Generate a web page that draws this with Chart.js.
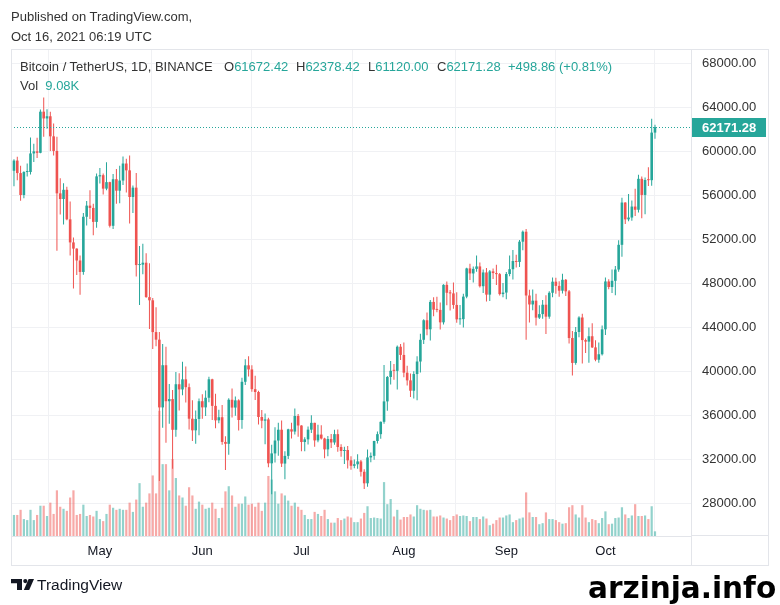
<!DOCTYPE html>
<html>
<head>
<meta charset="utf-8">
<script src="https://cdn.jsdelivr.net/npm/chart.js@4.4.1/dist/chart.umd.min.js"></script>
<style>
  html, body { margin: 0; padding: 0; background: #fff; }
  #wrap { position: relative; width: 780px; height: 605px; overflow: hidden; font-family: "Liberation Sans", Arial, sans-serif; color: #333; }
  #wrap canvas { position: absolute; left: 0; top: 0; }
  .t { position: absolute; white-space: nowrap; font-size: 13px; line-height: 15px; }
  .g { color: #26a69a; }
  .frame { position: absolute; left: 11px; top: 49px; width: 758px; height: 517px; box-sizing: border-box; border: 1px solid #e3e5ea; }
  .ln { position: absolute; background: #e3e5ea; }
</style>
</head>
<body>
<div id="wrap">
  <canvas id="chart" width="780" height="605"></canvas>
  <div class="frame"></div>
  <div class="ln" style="left:691px;top:535px;width:78px;height:1px"></div>
  <div class="ln" style="left:691px;top:536px;width:1px;height:30px"></div>

  <div class="t" style="left:11px;top:9px">Published on TradingView.com,</div>
  <div class="t" style="left:11px;top:29px">Oct 16, 2021 06:19 UTC</div>

  <div class="t" style="left:20px;top:59px">Bitcoin / TetherUS, 1D, BINANCE</div>
  <div class="t" style="left:224px;top:59px">O<span class="g" id="vO"></span></div>
  <div class="t" style="left:296px;top:59px">H<span class="g" id="vH"></span></div>
  <div class="t" style="left:368px;top:59px">L<span class="g" id="vL"></span></div>
  <div class="t" style="left:437px;top:59px">C<span class="g" id="vC"></span></div>
  <div class="t g" style="left:508px;top:59px" id="vChg"></div>
  <div class="t" style="left:20px;top:78px">Vol&nbsp;&nbsp;<span class="g" id="vVol"></span></div>

  <svg style="position:absolute;left:11px;top:579px" width="23" height="11" viewBox="0 0 23 11">
    <path d="M0 0H11V11H6V4.2H0Z" fill="#131722"/>
    <circle cx="14.3" cy="2.1" r="2.1" fill="#131722"/>
    <path d="M17.6 0H23L18.2 11H12.8Z" fill="#131722"/>
  </svg>
  <div class="t" style="left:37px;top:576px;font-size:15.5px;line-height:18px;color:#131722">TradingView</div>
  <div class="t" style="left:588px;top:571px;font-family:'DejaVu Sans',sans-serif;font-weight:bold;font-size:29.5px;line-height:34px;color:#000">arzinja.info</div>
</div>

<script>
// BINANCE:BTCUSDT, 1D, 2021-04-04 .. 2021-10-16
const startDate = "2021-04-04";

const open = [
  57051,58202,59129,57992,56000,58088,58092,59778,59964,59835,63576,62960,63159,61334,60006,56150,55633,56473,53787,51690,51125,50047,49004,54021,55034,54824,53555,
  57694,57800,56578,57169,53200,57436,56393,57314,58862,58241,55816,56670,49631,49671,49845,46716,46427,43538,42850,36690,40526,37252,37449,34655,38796,38324,39241,38530,35663,34606,35641,
  37253,36693,37568,39246,36829,35513,35796,33552,33380,37388,36675,37331,35546,39020,40516,40144,38349,38092,35820,35483,35600,31608,32509,33678,34663,31584,32283,34700,34494,35911,
  35045,33543,33786,34669,35287,33690,34220,33862,32875,33815,33502,34259,33086,32729,32820,31880,31383,31520,31778,30839,29790,32144,32287,33634,34258,35381,37237,39457,40019,40016,42207,
  41461,39846,39147,38207,39723,40862,42836,44614,43792,46281,45579,45555,44423,47834,47112,47056,46005,44696,44715,46761,49327,48869,49284,49507,47707,48960,46942,49058,48902,48807,46991,
  47131,48819,49254,49997,49915,51756,52663,46864,46049,46396,44851,45171,46025,44940,47112,48121,47737,47300,48292,47242,42996,40734,43543,44865,42810,42670,43160,42147,41026,41522,
  43790,48141,47634,48200,49224,51471,55315,53785,53951,54949,54659,57471,56006,57367,57347,61672.42
];
const high = [
  58500,59253,59475,58650,58153,58869,61218,60650,61199,63777,64854,63800,63564,62506,61288,57526,57076,56757,55410,52131,51166,50500,54356,55460,56428,55200,57963,
  58458,57964,58981,57200,57911,58360,58650,59500,59300,59594,56862,58000,51367,51570,50700,49800,46643,45797,43546,42451,42200,38829,38270,39920,39791,40841,40411,38856,37338,36400,37499,
  37894,38225,39477,39289,37925,36480,36900,34068,37534,38400,37681,37437,39380,41064,41330,40527,39560,38199,36457,36137,35750,33298,34881,35298,35500,32707,34749,35297,36600,36100,
  35057,33977,34945,35967,35293,35118,35059,33929,34100,34262,34666,34679,33340,33114,33185,32249,31955,32435,31899,31063,32858,32591,33650,34500,35398,40550,39542,40900,40640,42316,42448,
  42599,40480,39780,39969,41350,43392,44700,45310,46454,46700,46743,46218,47886,48144,47372,48053,47160,46000,47033,49382,49757,49500,50500,49875,49226,49368,49171,49309,49664,48918,48000,
  49000,50500,51000,50558,51900,52780,52920,47381,47400,47032,45987,46460,46876,47250,48500,48486,48160,48843,48372,47358,43639,44000,44978,45200,42966,43950,44350,42787,42590,44141,
  48495,48336,49228,49536,51886,55750,55332,56100,55489,56561,57839,57680,57600,58532,62933,62378.42
];
const low = [
  56478,56800,57333,55473,55700,57691,57875,59000,59369,59800,61301,62020,60000,59580,50931,54221,53329,53695,50500,47500,48726,46930,48753,53222,53813,52330,53013,
  57052,56035,56435,53046,52900,55200,55241,56900,56235,53400,54370,48600,46000,48800,46650,43825,42001,42250,30000,34850,33488,35200,31111,34031,36419,37800,37134,34685,33632,33379,34153,
  35666,35920,37170,35555,34800,35258,33300,31000,32396,35784,35937,34600,34757,38730,39506,38116,37365,35129,34803,33336,31251,28805,31683,32286,31275,30151,32000,33862,34225,34017,
  32712,32699,33316,34357,33125,33532,33777,32077,32261,33004,33306,32658,32202,31550,31133,31020,31164,31108,30407,29278,29482,31708,31924,33401,33851,35205,36383,38772,39200,38313,41000,
  39422,38690,37642,37508,37332,39853,42447,43261,42779,44982,45341,43770,44217,45971,45500,45660,44376,44203,43950,46622,48273,48050,49029,47600,47100,46315,46364,48371,47820,46864,46700,
  46514,48613,48316,49402,49450,50969,42843,44412,45513,44132,44722,44742,43370,44750,46700,47020,46750,47045,46829,42500,39600,40565,43069,40675,41646,40750,42098,40888,40753,41410,
  43283,47430,47088,46891,49022,50382,53357,53617,53661,54080,54415,53879,54240,56818,56850,61120.00
];
const close = [
  58202,59129,57992,56000,58088,58092,59778,59964,59835,63576,62960,63159,61334,60006,56150,55633,56473,53787,51690,51125,50047,49004,54021,55034,54824,53555,57694,
  57800,56578,57169,53200,57436,56393,57314,58862,58241,55816,56670,49631,49671,49845,46716,46427,43538,42850,36690,40526,37252,37449,34655,38796,38324,39241,38530,35663,34606,35641,37253,
  36693,37568,39246,36829,35513,35796,33552,33380,37388,36675,37331,35546,39020,40516,40144,38349,38092,35820,35483,35600,31608,32509,33678,34663,31584,32283,34700,34494,35911,35045,
  33543,33786,34669,35287,33690,34220,33862,32875,33815,33502,34259,33086,32729,32820,31880,31383,31520,31778,30839,29790,32144,32287,33634,34258,35381,37237,39457,40019,40016,42207,41461,
  39846,39147,38207,39723,40862,42836,44614,43792,46281,45579,45555,44423,47834,47112,47056,46005,44696,44715,46761,49327,48869,49284,49507,47707,48960,46942,49058,48902,48807,46991,47131,
  48819,49254,49997,49915,51756,52663,46864,46049,46396,44851,45171,46025,44940,47112,48121,47737,47300,48292,47242,42996,40734,43543,44865,42810,42670,43160,42147,41026,41522,43790,
  48141,47634,48200,49224,51471,55315,53785,53951,54949,54659,57471,56006,57367,57347,61672.42,62171.28
];
// volume in thousands of BTC
const volume = [
  50,41,41,51,33,31,51,31,41,59,59,39,65,43,89,57,53,49,75,89,41,43,61,39,41,38,49,
  33,29,43,61,55,51,53,51,51,65,47,71,103,57,65,83,118,83,244,140,140,89,150,113,79,75,59,95,79,53,67,
  61,53,55,65,53,35,55,87,97,79,57,63,63,77,61,63,57,65,49,65,117,110,87,63,83,79,69,59,65,57,
  51,41,33,33,47,43,39,51,33,26,26,35,31,34,38,36,27,27,34,45,58,35,36,35,34,105,62,72,38,51,32,
  37,37,42,38,60,53,51,50,51,38,38,40,36,34,31,39,42,39,40,39,29,37,37,33,38,34,21,24,31,36,36,
  40,42,27,31,34,36,85,46,37,37,23,25,46,33,33,31,27,24,25,56,60,42,36,60,36,27,33,31,25,35,
  48,23,24,35,36,56,42,35,40,62,39,39,40,33,58,9.08
];

const priceTicks = [28000, 32000, 36000, 40000, 44000, 48000, 52000, 56000, 60000, 64000, 68000];
const monthStarts = ["2021-05-01", "2021-06-01", "2021-07-01", "2021-08-01", "2021-09-01", "2021-10-01"];
const monthLabels = ["May", "Jun", "Jul", "Aug", "Sep", "Oct"];

const UP = "#26a69a", DOWN = "#ef5350";
const UP_VOL = "rgba(38,166,154,0.5)", DOWN_VOL = "rgba(239,83,80,0.5)";

const t0 = Date.parse(startDate);
const dayIndex = s => Math.round((Date.parse(s) - t0) / 86400000);
const monthIdx = monthStarts.map(dayIndex);
const isUp = close.map((c, i) => c >= open[i]);
const last = close.length - 1;

// header values
document.getElementById("vO").textContent = open[last].toFixed(2);
document.getElementById("vH").textContent = high[last].toFixed(2);
document.getElementById("vL").textContent = low[last].toFixed(2);
document.getElementById("vC").textContent = close[last].toFixed(2);
const chg = close[last] - close[last - 1];
document.getElementById("vChg").textContent =
  "+" + chg.toFixed(2) + " (+" + (chg / close[last - 1] * 100).toFixed(2) + "%)";
document.getElementById("vVol").textContent = volume[last].toFixed(2) + "K";

// dotted last price line + label on the price scale
const lastPrice = {
  id: "lastPrice",
  afterDraw(chart) {
    const { ctx, chartArea, scales } = chart;
    const y = Math.round(scales.y.getPixelForValue(close[last])) + 0.5;
    ctx.save();
    ctx.strokeStyle = UP;
    ctx.lineWidth = 1;
    ctx.setLineDash([1, 2]);
    ctx.beginPath();
    ctx.moveTo(chartArea.left, y);
    ctx.lineTo(chartArea.right, y);
    ctx.stroke();
    ctx.setLineDash([]);
    ctx.fillStyle = UP;
    ctx.fillRect(chartArea.right + 1, y - 9.5, 74, 19);
    ctx.fillStyle = "#fff";
    ctx.font = "bold 13px 'Liberation Sans', Arial, sans-serif";
    ctx.textBaseline = "middle";
    ctx.fillText(close[last].toFixed(2), chartArea.right + 11, y + 0.5);
    ctx.restore();
  }
};

new Chart(document.getElementById("chart"), {
  type: "bar",
  data: {
    datasets: [
      {
        label: "body",
        data: close.map((c, i) => ({ x: i, y: [open[i], c] })),
        backgroundColor: isUp.map(u => u ? UP : DOWN),
        barThickness: 2.6,
        minBarLength: 1,
        order: 1
      },
      {
        label: "wick",
        data: close.map((c, i) => ({ x: i, y: [low[i], high[i]] })),
        backgroundColor: isUp.map(u => u ? UP : DOWN),
        barThickness: 1,
        order: 2
      },
      {
        label: "volume",
        data: volume.map((v, i) => ({ x: i, y: v })),
        backgroundColor: isUp.map(u => u ? UP_VOL : DOWN_VOL),
        barThickness: 2.2,
        yAxisID: "v",
        order: 3
      }
    ]
  },
  options: {
    responsive: false,
    animation: false,
    events: [],
    layout: { padding: { left: 11, top: 49, right: 11, bottom: 39 } },
    datasets: { bar: { grouped: false, borderWidth: 0, inflateAmount: 0 } },
    plugins: { legend: { display: false }, tooltip: { enabled: false } },
    scales: {
      x: {
        type: "linear",
        offset: false,
        min: 0.1,
        max: 205.9,
        afterBuildTicks: s => { s.ticks = monthIdx.map(v => ({ value: v })); },
        afterFit: s => { s.height = 30; },
        ticks: {
          autoSkip: false,
          maxRotation: 0,
          padding: 8,
          color: "#131722",
          font: { family: "'Liberation Sans', Arial, sans-serif", size: 13 },
          callback: (v, i) => monthLabels[i]
        },
        grid: { color: "#f0f1f4", drawTicks: false },
        border: { color: "#e3e5ea" }
      },
      y: {
        position: "right",
        min: 25000,
        max: 69273,
        afterBuildTicks: s => { s.ticks = priceTicks.map(v => ({ value: v })); },
        afterFit: s => { s.width = 78; },
        ticks: {
          padding: 11,
          color: "#333",
          font: { family: "'Liberation Sans', Arial, sans-serif", size: 13 },
          callback: v => v.toFixed(2)
        },
        grid: { color: "#f0f1f4", drawTicks: false },
        border: { color: "#e3e5ea" }
      },
      v: {
        display: false,
        min: 0,
        max: 949
      }
    }
  },
  plugins: [lastPrice]
});
</script>
</body>
</html>
